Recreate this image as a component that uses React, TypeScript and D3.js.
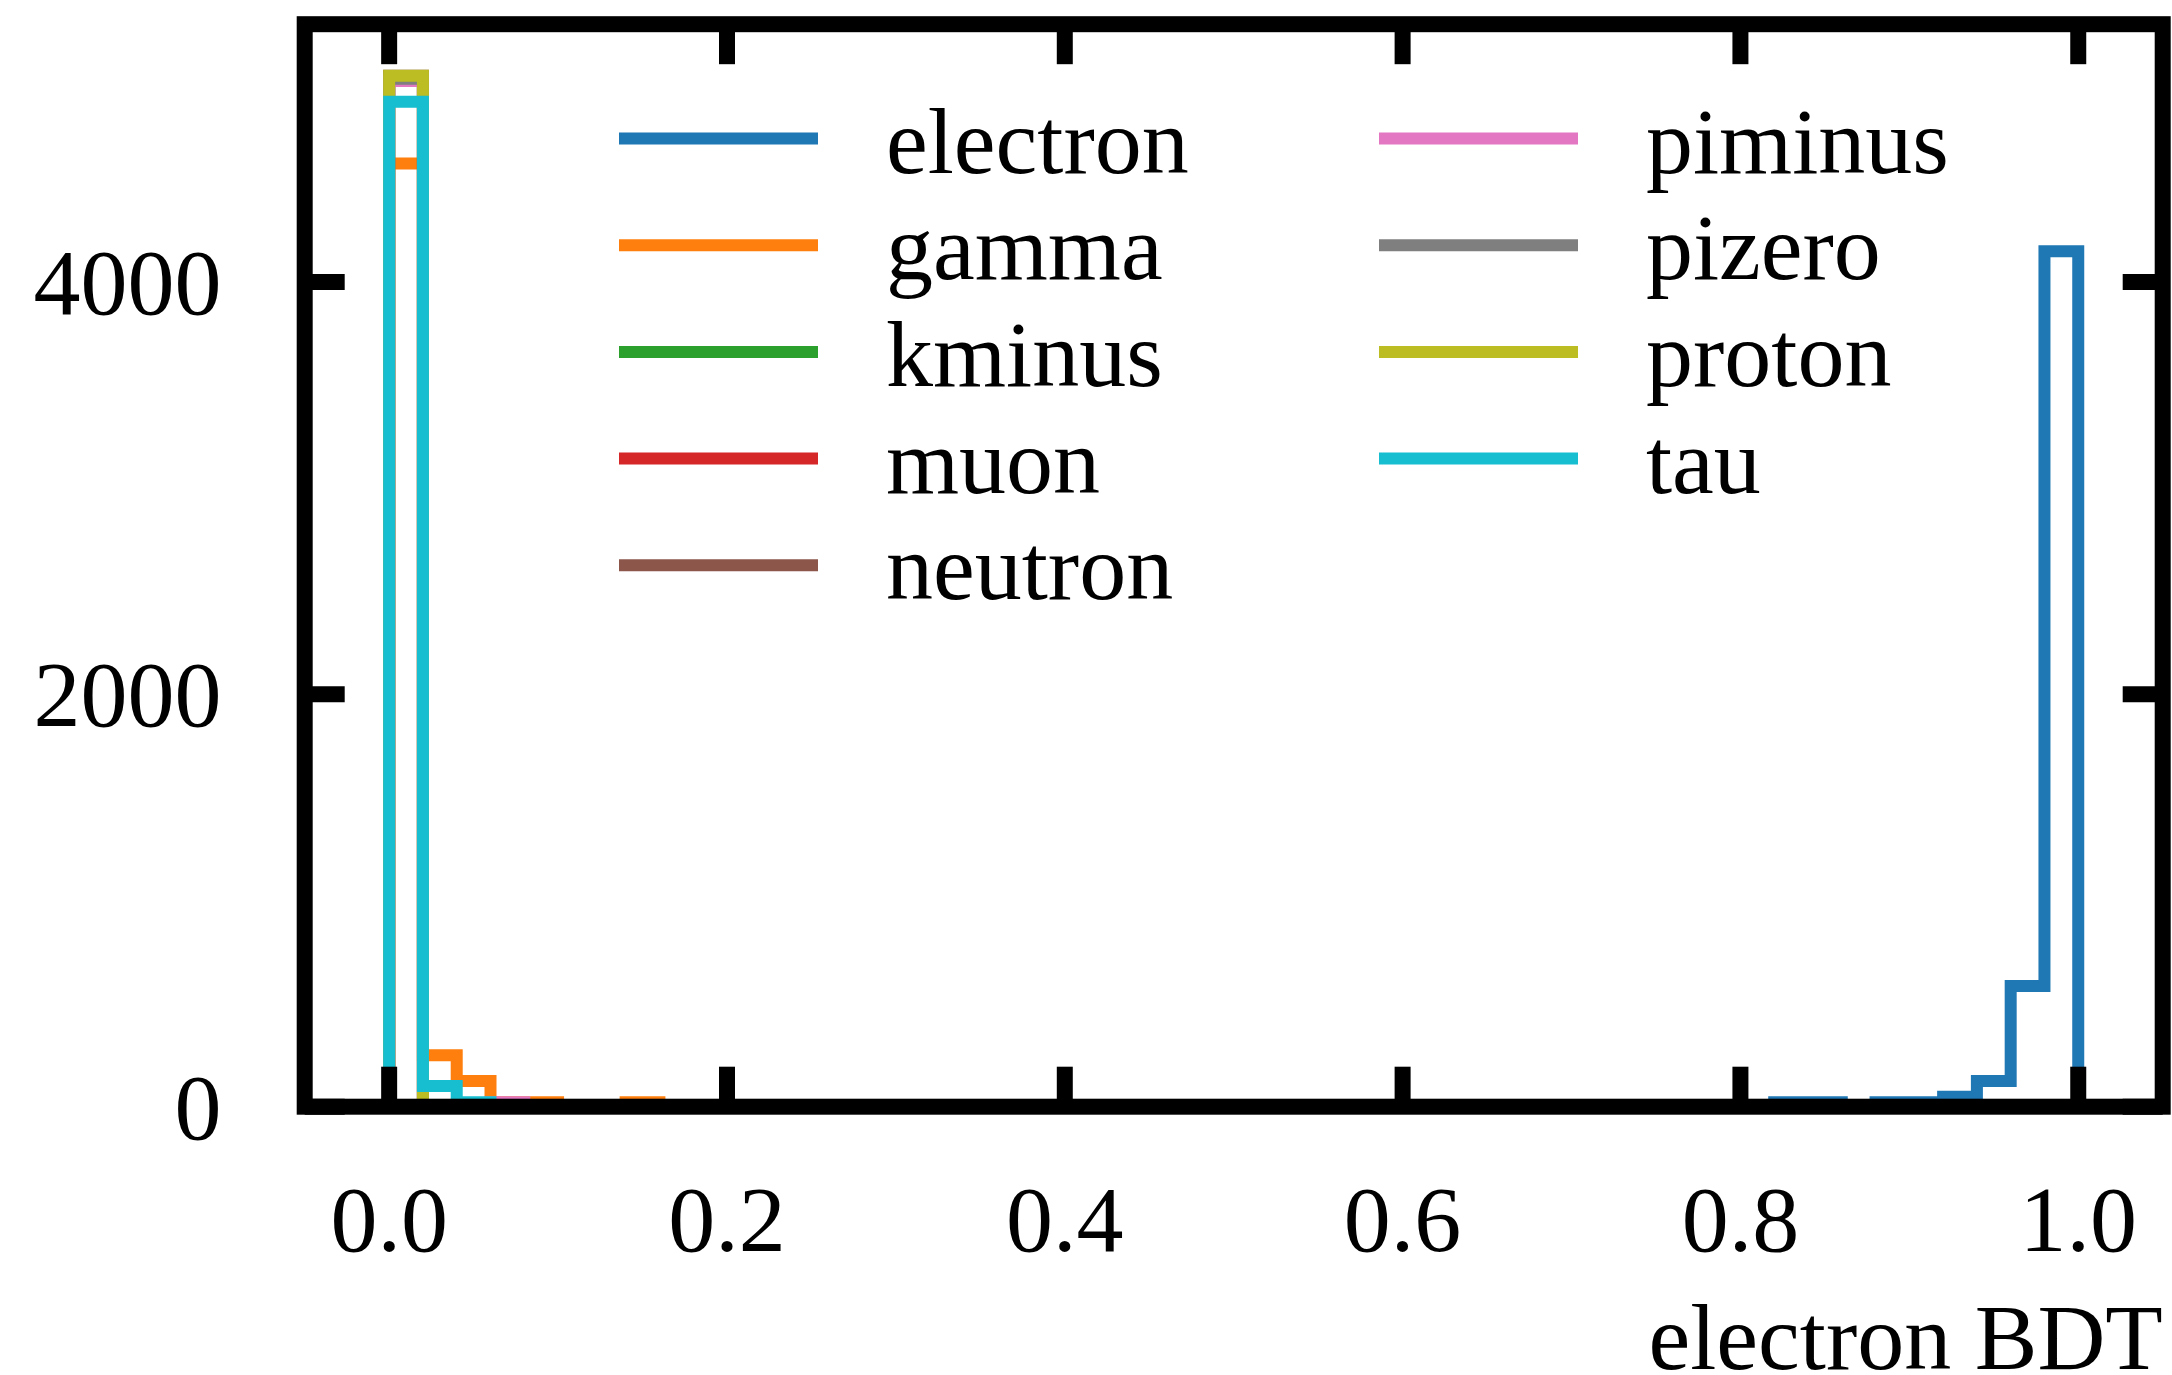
import React from 'react';
import * as d3 from 'd3';

// Histogram binning: 50 equal bins over [0, 1]
const binCount = 50;
const binDomain: [number, number] = [0, 1];

// Particle classes in drawing order
const classNames = ['electron', 'gamma', 'kminus', 'muon', 'neutron', 'piminus', 'pizero', 'proton', 'tau'];
const classColors = ['#1f77b4', '#ff7f0e', '#2ca02c', '#d62728', '#8c564b', '#e377c2', '#7f7f7f', '#bcbd22', '#17becf'];

// Non-empty bins per class as [bin index, count]
const electronBins: [number, number][] = [[41, 22], [42, 22], [44, 22], [45, 22], [46, 48], [47, 125], [48, 585], [49, 4149]];
const gammaBins: [number, number][] = [[0, 4575], [1, 249], [2, 125], [3, 22], [4, 22], [7, 22]];
const kminusBins: [number, number][] = [[0, 4990]];
const muonBins: [number, number][] = [[0, 4995]];
const neutronBins: [number, number][] = [[0, 5000]];
const piminusBins: [number, number][] = [[0, 4975], [3, 22]];
const pizeroBins: [number, number][] = [[0, 4985]];
const protonBins: [number, number][] = [[0, 5000]];
const tauBins: [number, number][] = [[0, 4874], [1, 100], [2, 22]];

const classBins = [electronBins, gammaBins, kminusBins, muonBins, neutronBins, piminusBins, pizeroBins, protonBins, tauBins];

// Axis ticks
const xTicks = [0, 0.2, 0.4, 0.6, 0.8, 1.0];
const yTicks = [0, 2000, 4000];
const xLabel = 'electron BDT';

const W = 2172;
const H = 1375;
const plotLeft = 304.7;
const plotRight = 2162.7;
const plotTop = 24.2;
const plotBottom = 1106.7;
const FONT = "'Liberation Serif', 'Times New Roman', serif";
const FS = 94;

export default function App() {
  const x = d3.scaleLinear().domain([-0.05, 1.05]).range([plotLeft, plotRight]);
  const yMax = d3.max(classBins.flat(), (d) => d[1]) as number;
  const y = d3.scaleLinear().domain([0, yMax * 1.05]).range([plotBottom, plotTop]);

  const edges = d3.range(binCount + 1).map((i) => binDomain[0] + ((binDomain[1] - binDomain[0]) * i) / binCount);

  const stepPath = (bins: [number, number][]) => {
    const counts = new Array(binCount).fill(0);
    bins.forEach(([i, c]) => (counts[i] = c));
    const pts: [number, number][] = [[edges[0], 0]];
    counts.forEach((c, i) => {
      pts.push([edges[i], c]);
      pts.push([edges[i + 1], c]);
    });
    pts.push([edges[binCount], 0]);
    return d3.line<[number, number]>().x((d) => x(d[0])).y((d) => y(d[1]))(pts) as string;
  };

  const tickLen = 40;
  const legendRowY = (i: number) => 138.5 + i * 106.7;
  const legendCols = [
    { lineX0: 619, lineX1: 818, textX: 886 },
    { lineX0: 1379, lineX1: 1578, textX: 1646 },
  ];

  return (
    <svg width={W} height={H} style={{ position: 'absolute', left: 0, top: 0, background: '#fff' }}>
      <rect x={0} y={0} width={W} height={H} fill="#fff" />
      {classBins.map((bins, k) => (
        <path
          key={classNames[k]}
          d={stepPath(bins)}
          fill="none"
          stroke={classColors[k]}
          strokeWidth={12}
          strokeLinejoin="miter"
          strokeLinecap="butt"
        />
      ))}

      {/* frame */}
      <rect
        x={plotLeft}
        y={plotTop}
        width={plotRight - plotLeft}
        height={plotBottom - plotTop}
        fill="none"
        stroke="#000"
        strokeWidth={16}
        strokeLinejoin="miter"
      />

      {/* inward ticks on all four sides */}
      {xTicks.map((t) => (
        <g key={'xt' + t}>
          <line x1={x(t)} x2={x(t)} y1={plotBottom} y2={plotBottom - tickLen} stroke="#000" strokeWidth={16} />
          <line x1={x(t)} x2={x(t)} y1={plotTop} y2={plotTop + tickLen} stroke="#000" strokeWidth={16} />
          <text
            x={x(t)}
            y={1251}
            textAnchor="middle"
            fontFamily={FONT}
            fontSize={FS}
            fill="#000"
          >
            {t.toFixed(1)}
          </text>
        </g>
      ))}
      {yTicks.map((t) => (
        <g key={'yt' + t}>
          <line x1={plotLeft} x2={plotLeft + tickLen} y1={y(t)} y2={y(t)} stroke="#000" strokeWidth={16} />
          <line x1={plotRight} x2={plotRight - tickLen} y1={y(t)} y2={y(t)} stroke="#000" strokeWidth={16} />
          <text
            x={221.6}
            y={y(t) + 32}
            textAnchor="end"
            fontFamily={FONT}
            fontSize={FS}
            fill="#000"
          >
            {String(t)}
          </text>
        </g>
      ))}

      <text x={plotRight} y={1369} textAnchor="end" fontFamily={FONT} fontSize={FS} fill="#000">
        {xLabel}
      </text>

      {/* legend, two columns */}
      {classNames.map((name, k) => {
        const col = legendCols[k < 5 ? 0 : 1];
        const row = k < 5 ? k : k - 5;
        const ly = legendRowY(row);
        return (
          <g key={'lg' + name}>
            <line x1={col.lineX0} x2={col.lineX1} y1={ly} y2={ly} stroke={classColors[k]} strokeWidth={12} />
            <text x={col.textX} y={ly + 34} fontFamily={FONT} fontSize={FS} fill="#000">
              {name}
            </text>
          </g>
        );
      })}
    </svg>
  );
}
